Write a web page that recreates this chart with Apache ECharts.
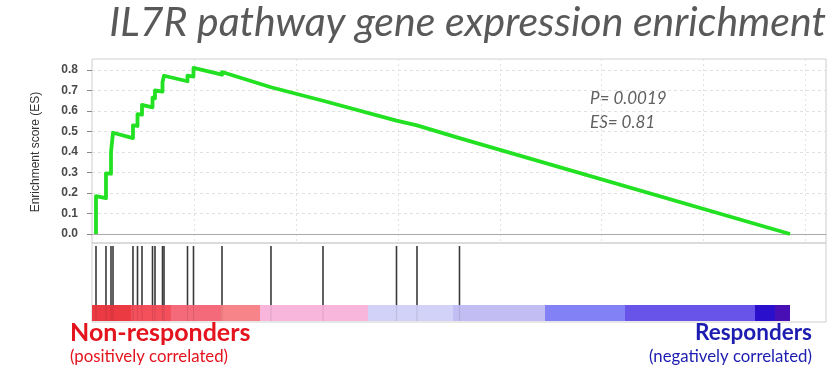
<!DOCTYPE html>
<html>
<head>
<meta charset="utf-8">
<script src="https://cdn.jsdelivr.net/npm/echarts@6/dist/echarts.min.js"></script>
<style>
  html, body { margin: 0; padding: 0; background: #ffffff; }
  #chart { width: 838px; height: 372px; }
</style>
</head>
<body>
<div id="chart"></div>
<script>
// Gene-set hits along the ranked gene list (rank positions)
const hitRanks = [98, 343, 466, 515, 1005, 1116, 1226, 1484, 1545, 1729, 1766, 2342, 2489, 3188, 4389, 5665, 7467, 7970, 9012];
// Running enrichment score just before and just after each hit
const esBefore = [0.000, 0.175, 0.294, 0.398, 0.468, 0.527, 0.582, 0.618, 0.662, 0.695, 0.738, 0.745, 0.768, 0.777, 0.716, 0.650, 0.553, 0.530, 0.468];
const esAfter  = [0.185, 0.296, 0.400, 0.494, 0.530, 0.585, 0.630, 0.665, 0.700, 0.740, 0.772, 0.772, 0.810, 0.790, 0.724, 0.657, 0.559, 0.536, 0.474];
// Length of the ranked list; the running sum returns to zero there
const listEnd = 17117;
const esEnd = 0.0;
// Correlation heat band: rank where each block starts (last entry closes the band)
const bandEdges = [0, 956, 1937, 3163, 4120, 6768, 8853, 11109, 13071, 16259, 16749, 17117];
// Y axis ticks
const esTicks = [0.0, 0.1, 0.2, 0.3, 0.4, 0.5, 0.6, 0.7, 0.8];
// Statistics shown in the plot
const pValue = '0.0019';
const esMax = '0.81';

// Colours of the heat band, strongly positive to strongly negative
const bandPalette = ['#ec3a42', '#f4505c', '#f46a7a', '#f78488', '#f8b6dc', '#d2d2f8', '#c2bef4', '#8282f6', '#6854e8', '#2a10cc', '#4810b4'];

const RANK_MAX = 18000;
const PLOT_LEFT = 92, PLOT_W = 734;

// Build the step-shaped running sum from the hit list
const esLine = [];
hitRanks.forEach((r, i) => {
  esLine.push([r, esBefore[i]]);
  esLine.push([r, esAfter[i]]);
});
esLine.push([listEnd, esEnd]);

const bandData = [];
for (let i = 0; i < bandEdges.length - 1; i++) {
  bandData.push([bandEdges[i], bandEdges[i + 1], i]);
}

const chart = echarts.init(document.getElementById('chart'), null, { renderer: 'canvas' });

chart.setOption({
  animation: false,
  backgroundColor: '#ffffff',
  grid: [
    // outer frame of the enrichment plot
    { left: PLOT_LEFT, top: 59, width: PLOT_W, height: 184, show: true, borderColor: '#cfcfcf', borderWidth: 1, backgroundColor: '#ffffff' },
    // data area (0 .. 0.8)
    { left: PLOT_LEFT, top: 70, width: PLOT_W, height: 164 },
    // hit marks + heat band
    { left: PLOT_LEFT, top: 243, width: PLOT_W, height: 79, show: true, borderColor: '#cfcfcf', borderWidth: 1 }
  ],
  xAxis: [
    {
      gridIndex: 0, type: 'value', min: 0, max: RANK_MAX, interval: 2500,
      axisLine: { show: false }, axisTick: { show: false }, axisLabel: { show: false },
      splitLine: { show: true, lineStyle: { color: '#e2e2e2', type: [2, 3], width: 1 } }
    },
    {
      gridIndex: 1, type: 'value', min: 0, max: RANK_MAX,
      axisLine: { show: true, onZero: false, lineStyle: { color: '#aaaaaa', width: 1 } },
      axisTick: { show: false }, axisLabel: { show: false }, splitLine: { show: false }
    },
    {
      gridIndex: 2, type: 'value', min: 0, max: RANK_MAX,
      axisLine: { show: false }, axisTick: { show: false }, axisLabel: { show: false }, splitLine: { show: false }
    }
  ],
  yAxis: [
    { gridIndex: 0, type: 'value', min: 0, max: 1, show: false },
    {
      gridIndex: 1, type: 'value', min: esTicks[0], max: esTicks[esTicks.length - 1], interval: 0.1,
      name: 'Enrichment score (ES)', nameLocation: 'middle', nameGap: 50,
      nameTextStyle: { color: '#333333', fontSize: 12, fontFamily: 'Liberation Sans' },
      axisLine: { show: false },
      axisTick: { show: true, length: 5, lineStyle: { color: '#888888' } },
      axisLabel: {
        margin: 14, color: '#4a4a4a', fontSize: 12, fontWeight: 'bold', fontFamily: 'Liberation Sans',
        formatter: v => v.toFixed(1)
      },
      splitLine: { show: true, lineStyle: { color: '#e0e0e0', type: [3, 3], width: 1 } }
    },
    { gridIndex: 2, type: 'value', min: 0, max: 1, show: false }
  ],
  series: [
    {
      type: 'line', xAxisIndex: 1, yAxisIndex: 1, data: esLine,
      showSymbol: false, symbol: 'none', clip: false,
      lineStyle: { color: '#22e122', width: 3.8, join: 'round' },
      z: 5
    },
    {
      type: 'custom', xAxisIndex: 2, yAxisIndex: 2, data: bandData,
      renderItem: (params, api) => {
        const p0 = api.coord([api.value(0), 0.215]);
        const p1 = api.coord([api.value(1), 0.013]);
        return {
          type: 'rect',
          shape: { x: p0[0], y: p0[1], width: p1[0] - p0[0], height: p1[1] - p0[1] },
          style: { fill: bandPalette[api.value(2)] }
        };
      },
      z: 2
    },
    {
      type: 'custom', xAxisIndex: 2, yAxisIndex: 2, data: hitRanks.map(r => [r]),
      renderItem: (params, api) => {
        const top = api.coord([api.value(0), 0.962]);
        const mid = api.coord([api.value(0), 0.215]);
        const bot = api.coord([api.value(0), 0.013]);
        return {
          type: 'group',
          children: [
            { type: 'line', shape: { x1: top[0], y1: top[1], x2: mid[0], y2: mid[1] }, style: { stroke: '#3a3a3a', lineWidth: 1.6 } },
            { type: 'line', shape: { x1: mid[0], y1: mid[1], x2: bot[0], y2: bot[1] }, style: { stroke: 'rgba(0,0,0,0.10)', lineWidth: 1.2 } }
          ]
        };
      },
      z: 3
    }
  ],
  graphic: [
    {
      type: 'text', right: 12, top: 2,
      style: { text: 'IL7R pathway gene expression enrichment', fill: '#595959', fontSize: 41, fontStyle: 'italic', fontFamily: 'Lato' }
    },
    {
      type: 'text', left: 590, top: 90,
      style: { text: 'P= ' + pValue, fill: '#606060', fontSize: 17, fontStyle: 'italic', fontFamily: 'Lato' }
    },
    {
      type: 'text', left: 590, top: 114,
      style: { text: 'ES= ' + esMax, fill: '#606060', fontSize: 17, fontStyle: 'italic', fontFamily: 'Lato' }
    },
    {
      type: 'text', left: 70, top: 320,
      style: { text: 'Non-responders', fill: '#e3141e', fontSize: 25, fontWeight: 'bold', fontFamily: 'Lato' }
    },
    {
      type: 'text', left: 70, top: 348,
      style: { text: '(positively correlated)', fill: '#e3141e', fontSize: 16.8, fontFamily: 'Lato' }
    },
    {
      type: 'text', right: 26, top: 321,
      style: { text: 'Responders', fill: '#1c1cb0', fontSize: 22.5, fontWeight: 'bold', fontFamily: 'Lato' }
    },
    {
      type: 'text', right: 26, top: 348,
      style: { text: '(negatively correlated)', fill: '#1c1cb0', fontSize: 16.8, fontFamily: 'Lato' }
    }
  ]
});
</script>
</body>
</html>
